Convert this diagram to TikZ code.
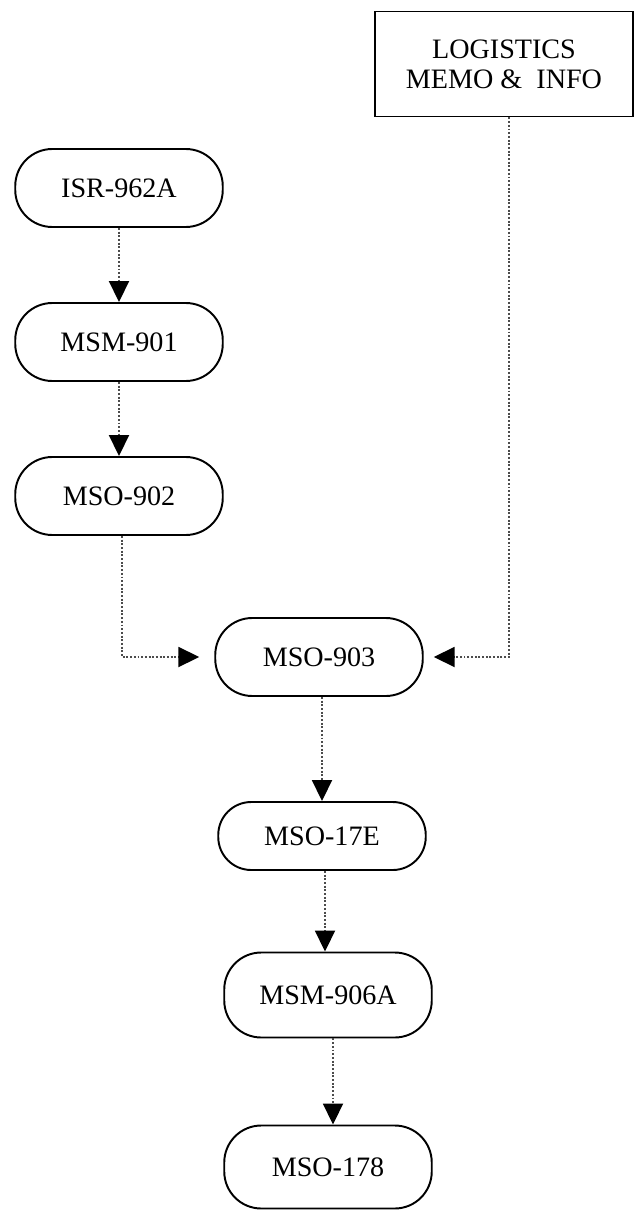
\documentclass[tikz,border=0pt]{standalone}
\usepackage{fontspec}
\setmainfont{Liberation Serif}
\usepackage{tikz}
\usetikzlibrary{arrows.meta,positioning,calc}

\begin{document}
\begin{tikzpicture}[x=1cm,y=1cm,font=\fontsize{16}{17}\selectfont,
  form/.style={draw,line width=1.1pt,rounded corners=0.74cm,minimum width=4.15cm,
    minimum height=1.56cm,inner sep=0pt},
  memo/.style={draw,line width=1.1pt,minimum width=5.16cm,minimum height=2.1cm,
    align=center,inner sep=0pt},
  flow/.style={densely dotted,line width=1.1pt,black!70,
    -{Triangle[length=0.42cm,width=0.4cm,color=black,fill=black]}}]
  \useasboundingbox (0,0) rectangle (12.7,-24.2);
  % left column
  \node[form] (isr) at (2.38,-3.76) {ISR-962A};
  \node[form] (msm901) at (2.38,-6.84) {MSM-901};
  \node[form] (mso902) at (2.38,-9.92) {MSO-902};
  % logistics box
  \node[memo] (logi) at (10.08,-1.28) {LOGISTICS\\MEMO \&~ INFO};
  % centre column
  \node[form] (mso903) at (6.38,-13.14) {MSO-903};
  \node[form,minimum height=1.36cm,rounded corners=0.66cm] (mso17e) at (6.44,-16.72) {MSO-17E};
  \node[form,minimum height=1.7cm] (msm906a) at (6.56,-19.9) {MSM-906A};
  \node[form,minimum height=1.66cm] (mso178) at (6.56,-23.34) {MSO-178};
  % connectors
  \draw[flow] (isr) -- (msm901);
  \draw[flow] (msm901) -- (mso902);
  \draw[flow,shorten >=0.3cm] ([xshift=0.06cm]mso902.south) |- (mso903.west);
  \draw[flow,shorten >=0.2cm] ([xshift=0.1cm]logi.south) |- (mso903.east);
  \draw[flow] (mso903.south -| mso17e.north) -- (mso17e.north);
  \draw[flow] ([xshift=0.06cm]mso17e.south) -- ([xshift=0.06cm]mso17e.south |- msm906a.north);
  \draw[flow] ([xshift=0.1cm]msm906a.south) -- ([xshift=0.1cm]msm906a.south |- mso178.north);
\end{tikzpicture}
\end{document}
